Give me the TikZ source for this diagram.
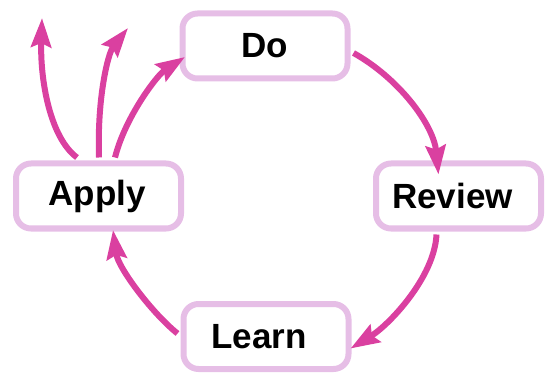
\documentclass[tikz,border=0pt]{standalone}
\usepackage{fontspec}
\setmainfont{Liberation Sans}
\usetikzlibrary{arrows.meta}
\definecolor{arrowc}{RGB}{218,64,160}
\definecolor{boxc}{RGB}{230,190,230}
\begin{document}
\begin{tikzpicture}[x=1pt,y=-1pt,
  stagebox/.style={draw=boxc, line width=6pt, fill=white, rounded corners=15pt,
    minimum width=165pt, minimum height=65pt, inner sep=0pt,
    font=\fontsize{35}{40}\selectfont\bfseries},
  flow/.style={draw=arrowc, line width=6pt,
    -{Stealth[length=29pt,width=20pt,inset=4pt]}}]
\useasboundingbox (0,0) rectangle (546,374);
\node[stagebox] (do) at (265,46) {Do};
\node[stagebox] (review) at (458.5,196) {Review\kern12pt};
\node[stagebox] (learn) at (266,336.5) {Learn\kern14pt};
\node[stagebox] (apply) at (98.5,196) {Apply\kern3pt};
\coordinate (outa) at (128,28);
\coordinate (outb) at (42,18);
\draw[flow] ([shift={(3,7)}]do.east) .. controls +(45,25) and +(-5,-50) .. ([shift={(-20,14)}]review.north);
\draw[flow] ([shift={(-22,3)}]review.south) .. controls +(-2,43) and +(38,-23) .. ([shift={(-1,12)}]learn.east);
\draw[flow] ([shift={(-3,-3)}]learn.west) .. controls +(-25,-20) and +(5,38) .. ([shift={(14.5,-1.5)}]apply.south);
\draw[flow] ([shift={(16.5,-3)}]apply.north) .. controls +(10,-40) and +(-28,18) .. ([shift={(5.5,11)}]do.west);
\draw[flow] ([shift={(0.5,-3)}]apply.north) .. controls +(-2,-60) and +(-20,25) .. (outa);
\draw[flow] ([shift={(-21.5,-3)}]apply.north) .. controls +(-27,-20) and +(-2,62) .. (outb);
\end{tikzpicture}
\end{document}
